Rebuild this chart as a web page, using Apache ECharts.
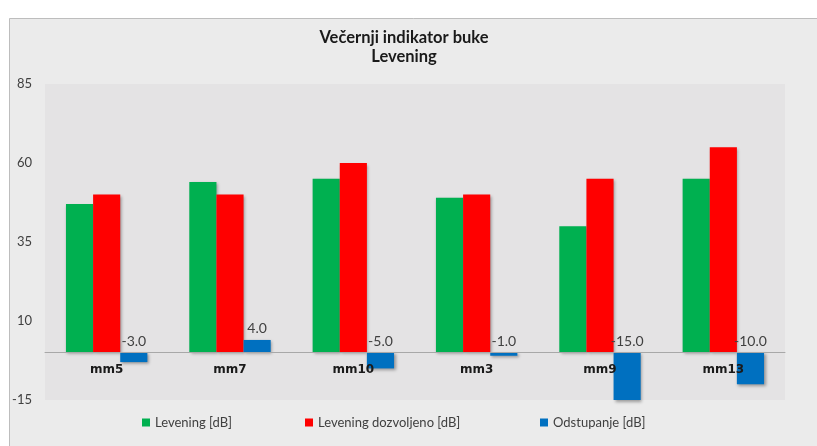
<!DOCTYPE html>
<html>
<head>
<meta charset="utf-8">
<script src="https://cdn.jsdelivr.net/npm/echarts@6/dist/echarts.min.js"></script>
<style>
  html, body { margin: 0; padding: 0; background: #ffffff; }
  #chart { width: 817px; height: 446px; }
</style>
</head>
<body>
<div id="chart"></div>
<script>
const titleText = 'Večernji indikator buke\nLevening';
const categories = ['mm5', 'mm7', 'mm10', 'mm3', 'mm9', 'mm13'];
const levening = [47, 54, 55, 49, 40, 55];
const dozvoljeno = [50, 50, 60, 50, 55, 65];
const odstupanje = [-3, 4, -5, -1, -15, -10];
const seriesNames = ['Levening [dB]', 'Levening dozvoljeno [dB]', 'Odstupanje [dB]'];
const yTicks = [-15, 10, 35, 60, 85];

const chart = echarts.init(document.getElementById('chart'), null, { renderer: 'canvas' });
const shadow = { shadowBlur: 3, shadowOffsetX: 1.5, shadowOffsetY: 1.5, shadowColor: 'rgba(0,0,0,0.35)' };
const legendText = { fontFamily: 'Lato', fontSize: 13, color: '#404040' };

const gridTop = 84, gridBottom = 46, chartH = 446;
const plotH = chartH - gridTop - gridBottom;
const yMin = yTicks[0], yMax = yTicks[yTicks.length - 1];
// move the category axis up so that it sits on the zero value
const zeroOffset = -plotH * (0 - yMin) / (yMax - yMin);

chart.setOption({
  backgroundColor: 'transparent',
  graphic: [{
    type: 'rect', z: -10, silent: true,
    shape: { x: 9.5, y: 18.5, width: 830, height: 450 },
    style: { fill: '#ebebeb', stroke: '#bdbdbd', lineWidth: 1 }
  }],
  title: {
    text: titleText,
    left: 399, top: 23,
    textAlign: 'center',
    textStyle: { fontFamily: 'Lato', fontWeight: 'bold', fontSize: 16.5, lineHeight: 19, color: '#1a1a1a', align: 'center' }
  },
  legend: [
    { data: [seriesNames[0]], left: 137, top: 411, itemWidth: 8, itemHeight: 8, icon: 'rect', textStyle: legendText },
    { data: [seriesNames[1]], left: 300, top: 411, itemWidth: 8, itemHeight: 8, icon: 'rect', textStyle: legendText },
    { data: [seriesNames[2]], left: 535, top: 411, itemWidth: 8, itemHeight: 8, icon: 'rect', textStyle: legendText }
  ],
  grid: {
    left: 45, right: 32, top: gridTop, bottom: gridBottom,
    show: true, backgroundColor: '#e4e3e4', borderWidth: 0
  },
  xAxis: {
    type: 'category',
    data: categories,
    position: 'bottom',
    offset: zeroOffset,
    z: 10,
    axisLine: { show: true, onZero: false, lineStyle: { color: '#a8a8a8', width: 1 } },
    axisTick: { show: false },
    axisLabel: { fontFamily: 'DejaVu Sans', fontWeight: 'bold', fontSize: 12, color: '#1a1a1a', margin: 11 },
    splitLine: { show: false }
  },
  yAxis: {
    type: 'value',
    min: yMin, max: yMax, interval: 25,
    axisLine: { show: false },
    axisTick: { show: false },
    splitLine: { show: false },
    axisLabel: { fontFamily: 'Lato', fontSize: 13, color: '#404040', margin: 13 }
  },
  series: [
    {
      name: seriesNames[0], type: 'bar', data: levening,
      barGap: '0%', barCategoryGap: '34%',
      itemStyle: Object.assign({ color: '#00b050' }, shadow)
    },
    {
      name: seriesNames[1], type: 'bar', data: dozvoljeno,
      barGap: '0%', barCategoryGap: '34%',
      itemStyle: Object.assign({ color: '#ff0000' }, shadow)
    },
    {
      name: seriesNames[2], type: 'bar', data: odstupanje,
      barGap: '0%', barCategoryGap: '34%',
      itemStyle: Object.assign({ color: '#0070c0' }, shadow),
      label: {
        show: true, position: 'top', distance: 4,
        fontFamily: 'Lato', fontSize: 14, color: '#404040',
        formatter: p => p.value.toFixed(1)
      }
    }
  ]
});
</script>
</body>
</html>
